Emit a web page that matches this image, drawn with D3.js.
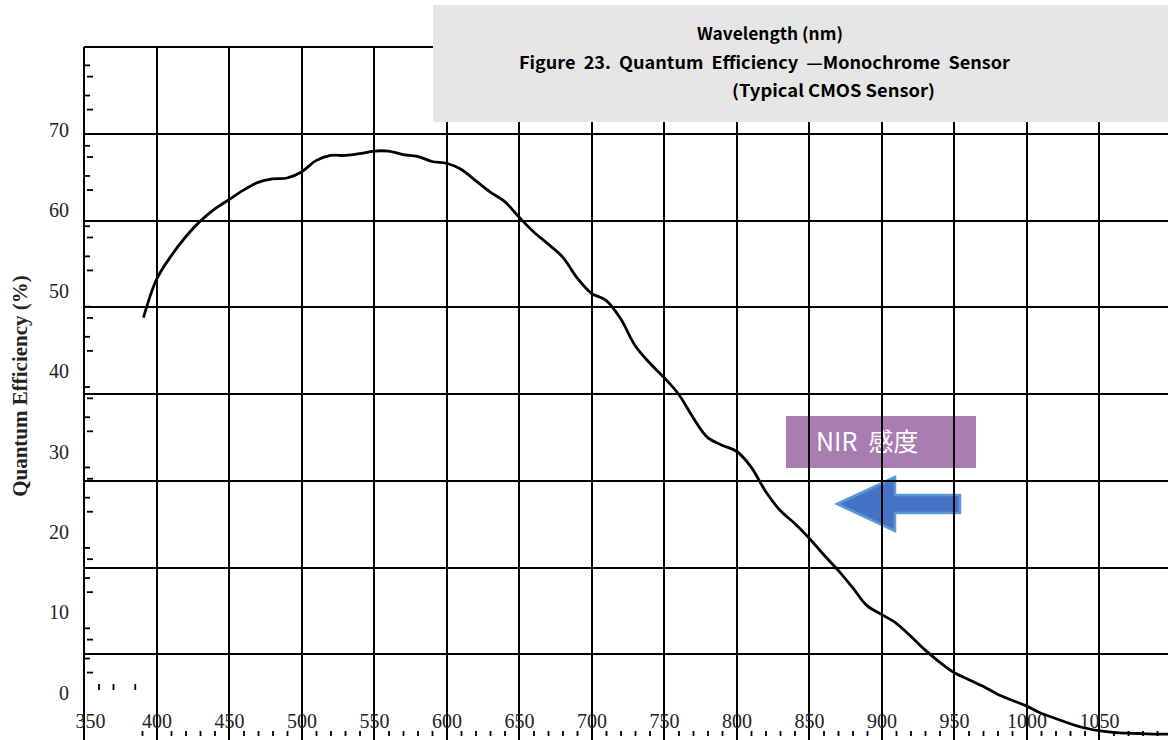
<!DOCTYPE html>
<html>
<head>
<meta charset="utf-8">
<script src="https://cdn.jsdelivr.net/npm/d3@7"></script>
<style>
  body { margin: 0; background: #fff; }
  svg { display: block; }
</style>
</head>
<body>
<svg id="chart" width="1168" height="740"></svg>
<script>
// wavelength (nm) and quantum efficiency (%)
var wavelengths = [391, 400, 410, 420, 430, 440, 450, 460, 470, 480, 490, 500,
  510, 520, 530, 540, 550, 560, 570, 580, 590, 600, 610, 620, 630, 640, 650,
  660, 670, 680, 690, 700, 710, 720, 730, 740, 750, 760, 770, 780, 790, 800,
  810, 820, 830, 840, 850, 860, 870, 880, 890, 900, 910, 920, 930, 940, 950,
  960, 970, 980, 990, 1000, 1010, 1020, 1030, 1040, 1050, 1060, 1070, 1080,
  1090, 1100];
var qe = [48.8, 53.2, 55.9, 58.1, 59.9, 61.3, 62.4, 63.5, 64.4, 64.8, 64.9, 65.6,
  66.9, 67.5, 67.5, 67.7, 68.0, 68.0, 67.6, 67.4, 66.8, 66.6, 65.9, 64.6,
  63.3, 62.2, 60.4, 58.7, 57.3, 55.8, 53.4, 51.6, 50.8, 48.7, 45.6, 43.6,
  41.9, 40.0, 37.3, 35.0, 34.1, 33.4, 31.6, 28.8, 26.6, 25.1, 23.4, 21.5,
  19.7, 17.7, 15.6, 14.6, 13.6, 12.1, 10.5, 9.1, 7.9, 7.1, 6.3, 5.4, 4.7,
  4.05, 3.2, 2.6, 2.0, 1.5, 1.2, 1.0, 0.9, 0.85, 0.8, 0.8];

var xTickLabels = [350, 400, 450, 500, 550, 600, 650, 700, 750, 800, 850, 900, 950, 1000, 1050];
var yTickLabels = [0, 10, 20, 30, 40, 50, 60, 70];
var xGridValues = [400, 450, 500, 550, 600, 650, 700, 750, 800, 850, 900, 950, 1000, 1050];
var yGridValues = [10, 20, 30, 40, 50, 60, 70, 80];
// the scan has stray minor ticks; these are where they sit
var yMinorA = [4.35, 8.1, 14.35, 18.1, 24.35, 28.1, 34.35, 38.1, 44.35, 48.1, 54.35, 58.1, 64.35, 68.1, 74.35, 78.1];
var yMinorB = [2.6, 6.7, 12.6, 16.7, 22.6, 26.7, 32.6, 36.7, 42.6, 46.7, 52.6, 56.7, 62.6, 66.7, 72.6, 76.7];
var xMinorLow = [360, 370, 385];

var titleLines = ["Wavelength (nm)",
  "Figure  23.  Quantum  Efficiency  \u2014Monochrome  Sensor",
  "(Typical CMOS Sensor)"];
var yTitle = "Quantum Efficiency (%)";
var nirLabel = "NIR\u00a0\u00a0感度";

var svg = d3.select("#chart");

// plot scales: the grid squares of the original figure
var x = d3.scaleLinear().domain([350, 1050]).range([84, 1099]);
var y = d3.scaleLinear().domain([0, 80]).range([741, 47]);
// the printed y labels do not line up with the grid in the scan
var yLab = d3.scaleLinear().domain([0, 70]).range([693, 130]);

function px(v) { return Math.round(v); }

// NIR annotation sits under the grid
svg.append("rect")
  .attr("x", 786).attr("y", 416)
  .attr("width", 190).attr("height", 52)
  .attr("fill", "#a97cb2");
svg.append("text")
  .attr("x", 816).attr("y", 444)
  .attr("dominant-baseline", "middle")
  .style("font-family", "'Noto Sans CJK JP', 'Noto Sans', sans-serif")
  .style("font-size", "25px")
  .style("white-space", "pre")
  .attr("fill", "#fff")
  .text(nirLabel);

var arrow = d3.path();
arrow.moveTo(837, 504);
arrow.lineTo(895, 477);
arrow.lineTo(895, 495);
arrow.lineTo(960, 495);
arrow.lineTo(960, 513);
arrow.lineTo(895, 513);
arrow.lineTo(895, 531);
arrow.closePath();
svg.append("path")
  .attr("d", arrow.toString())
  .attr("fill", "#4472c4")
  .attr("stroke", "#5b9bd5")
  .attr("stroke-width", 2.5)
  .attr("stroke-linejoin", "miter");

// grid
var grid = svg.append("g")
  .attr("stroke", "#000")
  .attr("stroke-width", 2.2)
  .attr("shape-rendering", "crispEdges");
grid.append("line")
  .attr("x1", px(x(350))).attr("x2", px(x(350)))
  .attr("y1", px(y(80))).attr("y2", 740);
grid.selectAll(".vgrid").data(xGridValues).enter()
  .append("line")
  .attr("class", "vgrid")
  .attr("x1", function(d) { return px(x(d)); })
  .attr("x2", function(d) { return px(x(d)); })
  .attr("y1", px(y(80))).attr("y2", 740);
grid.selectAll(".hgrid").data(yGridValues).enter()
  .append("line")
  .attr("class", "hgrid")
  .attr("x1", px(x(350))).attr("x2", 1168)
  .attr("y1", function(d) { return px(y(d)); })
  .attr("y2", function(d) { return px(y(d)); });

// minor ticks on the left edge, two staggered rows
svg.append("g")
  .attr("transform", "translate(84,0)")
  .call(d3.axisRight(yLab).tickValues(yMinorA).tickSize(6).tickFormat(""))
  .call(function(g) { g.select(".domain").remove(); })
  .selectAll("line").attr("stroke-width", 1.8);
svg.append("g")
  .attr("transform", "translate(87,0)")
  .call(d3.axisRight(yLab).tickValues(yMinorB).tickSize(6).tickFormat(""))
  .call(function(g) { g.select(".domain").remove(); })
  .selectAll("line").attr("stroke-width", 1.8);

// minor ticks along the bottom
var xMinor = d3.range(390, 1170, 10).filter(function(d) { return d % 50 !== 0; });
svg.append("g")
  .attr("transform", "translate(0,731)")
  .call(d3.axisBottom(x).tickValues(xMinor).tickSize(5).tickFormat(""))
  .call(function(g) { g.select(".domain").remove(); })
  .selectAll("line").attr("stroke-width", 1.8);
svg.append("g")
  .attr("transform", "translate(0,684)")
  .call(d3.axisBottom(x).tickValues(xMinorLow).tickSize(6).tickFormat(""))
  .call(function(g) { g.select(".domain").remove(); })
  .selectAll("line").attr("stroke-width", 1.8);

// tick labels
var xAxis = svg.append("g")
  .attr("transform", "translate(0,711)")
  .call(d3.axisBottom(x).tickValues(xTickLabels).tickSize(0).tickPadding(3)
    .tickFormat(d3.format("d")));
xAxis.select(".domain").remove();
xAxis.selectAll("text")
  .style("font-family", "'Liberation Serif', 'Times New Roman', serif")
  .style("font-size", "20px")
  .attr("fill", "#222");
xAxis.selectAll("text").filter(function(d) { return d === 350; }).attr("dx", 6);

var yAxis = svg.append("g")
  .attr("transform", "translate(69,0)")
  .call(d3.axisLeft(yLab).tickValues(yTickLabels).tickSize(0).tickPadding(0));
yAxis.select(".domain").remove();
yAxis.selectAll("text")
  .style("font-family", "'Liberation Serif', 'Times New Roman', serif")
  .style("font-size", "20px")
  .attr("fill", "#222");

svg.append("text")
  .attr("transform", "translate(27,386) rotate(-90)")
  .attr("text-anchor", "middle")
  .style("font-family", "'Liberation Serif', 'Times New Roman', serif")
  .style("font-size", "21px")
  .style("font-weight", "bold")
  .attr("fill", "#222")
  .text(yTitle);

// the QE curve
var points = wavelengths.map(function(d, i) { return [d, qe[i]]; });
var line = d3.line()
  .curve(d3.curveCatmullRom.alpha(0.5))
  .x(function(d) { return x(d[0]); })
  .y(function(d) { return y(d[1]); });
svg.append("path")
  .attr("d", line(points))
  .attr("fill", "none")
  .attr("stroke", "#000")
  .attr("stroke-width", 2.8)
  .attr("stroke-linejoin", "round");

// caption box covers the top of the grid
svg.append("rect")
  .attr("x", 433).attr("y", 5)
  .attr("width", 735).attr("height", 117)
  .attr("fill", "#e6e6e6");

var titleSpans = [
  { x: 697, y: 40, w: 146 },
  { x: 519, y: 69, w: 491 },
  { x: 732, y: 97, w: 203 }
];
svg.selectAll(".caption").data(titleLines).enter()
  .append("text")
  .attr("class", "caption")
  .attr("x", function(d, i) { return titleSpans[i].x; })
  .attr("y", function(d, i) { return titleSpans[i].y; })
  .attr("textLength", function(d, i) { return titleSpans[i].w; })
  .attr("lengthAdjust", "spacingAndGlyphs")
  .style("font-family", "'Noto Sans CJK JP', 'Noto Sans', sans-serif")
  .style("font-size", "17px")
  .style("font-weight", "bold")
  .style("white-space", "pre")
  .attr("fill", "#000")
  .text(function(d) { return d; });
</script>
</body>
</html>
